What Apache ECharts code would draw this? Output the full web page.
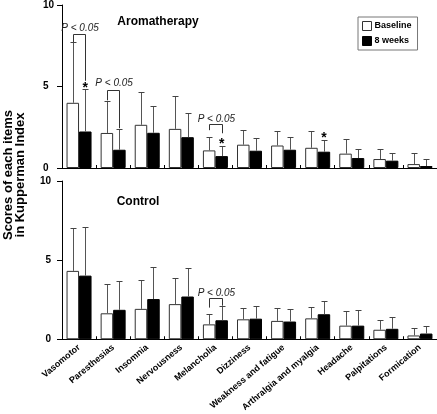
<!DOCTYPE html>
<html><head><meta charset="utf-8">
<script src="https://cdn.jsdelivr.net/npm/echarts@6/dist/echarts.min.js"></script>
<style>html,body{margin:0;padding:0;background:#fff}#c{width:437px;height:414px}</style>
</head><body><div id="c"></div>
<script>
const categories = ['Vasomotor','Paresthesias','Insomnia','Nervousness','Melancholia','Dizziness','Weakness and fatigue','Arthralgia and myalgia','Headache','Palpitations','Formication'];
const yTicks = [0, 5, 10];
const aromaBaseline = [4.0, 2.15, 2.65, 2.4, 1.08, 1.43, 1.38, 1.24, 0.88, 0.55, 0.24];
const aromaBaselineSD = [3.73, 1.94, 2.01, 2.01, 0.85, 0.91, 0.90, 1.06, 0.87, 0.59, 0.70];
const aroma8w = [2.24, 1.12, 2.16, 1.89, 0.73, 1.06, 1.12, 1.0, 0.61, 0.45, 0.12];
const aroma8wSD = [2.60, 1.28, 1.62, 1.49, 0.65, 0.79, 0.77, 0.73, 0.57, 0.49, 0.45];
const controlBaseline = [4.32, 1.64, 1.92, 2.22, 0.94, 1.26, 1.16, 1.32, 0.86, 0.60, 0.24];
const controlBaselineSD = [2.68, 1.84, 1.80, 1.68, 0.64, 0.72, 0.82, 0.70, 0.92, 0.62, 0.48];
const control8w = [4.02, 1.86, 2.54, 2.70, 1.20, 1.30, 1.12, 1.58, 0.86, 0.66, 0.36];
const control8wSD = [3.10, 1.84, 2.04, 1.80, 0.90, 0.80, 0.78, 0.86, 1.00, 0.72, 0.48];
// brackets: [category, top, left leg end, right leg end, label y]
const aromaBrackets = [[0, 8.23, 7.73, 5.35, 8.6], [1, 4.76, 4.15, 2.44, 5.18], [4, 2.68, 2.32, 2.13, 2.99]];
const controlBrackets = [[4, 2.6, 2.0, 2.12, 2.9]];
const aromaStars = [[0, 5.1], [4, 1.63], [7, 2.0]];
const pText = 'P < 0.05';

const FONT = '"Liberation Sans", Arial, sans-serif';
const BW = 12.5;

function errSeries(vals, sds, sign, gi) {
  return {
    type: 'custom', xAxisIndex: gi, yAxisIndex: gi, z: 5, silent: true,
    data: vals.map((v, i) => [i, v, v + sds[i]]),
    encode: { x: 0, y: [1, 2] },
    renderItem: function (params, api) {
      const p0 = api.coord([api.value(0), api.value(1)]);
      const p1 = api.coord([api.value(0), api.value(2)]);
      const x = Math.round(p0[0] + sign * BW / 2) + 0.5;
      const y1 = Math.round(p1[1]) + 0.5;
      return { type: 'group', children: [
        { type: 'line', shape: { x1: x, y1: p0[1], x2: x, y2: y1 }, style: { stroke: '#555', lineWidth: 1 } },
        { type: 'line', shape: { x1: x - 3, y1: y1, x2: x + 3, y2: y1 }, style: { stroke: '#444', lineWidth: 1 } }
      ]};
    }
  };
}

function bracketSeries(br, gi) {
  return {
    type: 'custom', xAxisIndex: gi, yAxisIndex: gi, z: 6, silent: true,
    data: br,
    encode: { x: 0, y: 1 },
    renderItem: function (params, api) {
      const c = api.value(0);
      const pt = api.coord([c, api.value(1)]);
      const pl = api.coord([c, api.value(2)]);
      const pr = api.coord([c, api.value(3)]);
      const plab = api.coord([c, api.value(4)]);
      const xl = Math.round(pt[0] - BW / 2) + 0.5, xr = Math.round(pt[0] + BW / 2) + 0.5;
      const yt = Math.round(pt[1]) + 0.5;
      return { type: 'group', children: [
        { type: 'polyline', shape: { points: [[xl, pl[1]], [xl, yt], [xr, yt], [xr, pr[1]]] }, style: { stroke: '#333', lineWidth: 1, fill: null } },
        { type: 'text', x: pt[0] + 1, y: plab[1], style: { text: pText, font: 'italic 10px ' + FONT, fill: '#222', align: 'center', verticalAlign: 'middle' } }
      ]};
    }
  };
}

function starSeries(st, gi) {
  return {
    type: 'custom', xAxisIndex: gi, yAxisIndex: gi, z: 6, silent: true,
    data: st, encode: { x: 0, y: 1 },
    renderItem: function (params, api) {
      const p = api.coord([api.value(0), api.value(1)]);
      return { type: 'text', x: p[0] + BW / 2, y: p[1] + 3, style: { text: '*', font: 'bold 14px ' + FONT, fill: '#000', align: 'center', verticalAlign: 'middle' } };
    }
  };
}

function xAxis(gi, showLabels) {
  return {
    type: 'category', gridIndex: gi, data: categories, boundaryGap: true,
    axisLine: { show: true, lineStyle: { color: '#000', width: 1 } },
    axisTick: { show: true, inside: true, length: 3, interval: 0, lineStyle: { color: '#000' } },
    axisLabel: { show: showLabels, interval: 0, rotate: 40, fontSize: 9, fontWeight: 'bold', fontFamily: FONT, color: '#000', margin: 7 },
    splitLine: { show: false }
  };
}
function yAxis(gi, align, margin) {
  return {
    type: 'value', gridIndex: gi, min: yTicks[0], max: yTicks[yTicks.length - 1], interval: yTicks[1] - yTicks[0],
    axisLine: { show: true, lineStyle: { color: '#000', width: 1 } },
    axisTick: { show: true, inside: false, length: 5, lineStyle: { color: '#000' } },
    axisLabel: { fontSize: 10, fontWeight: 'bold', fontFamily: FONT, color: '#000', align: align, margin: margin },
    splitLine: { show: false }
  };
}
const whiteStyle = { color: '#fff', borderColor: '#333', borderWidth: 1 };
const blackStyle = { color: '#000', borderColor: '#000', borderWidth: 1 };

const chart = echarts.init(document.getElementById('c'), null, { renderer: 'canvas' });
chart.setOption({
  animation: false,
  backgroundColor: '#fff',
  title: [
    { text: 'Aromatherapy', left: 153, top: 11, textAlign: 'center', textStyle: { fontSize: 12, fontWeight: 'bold', fontFamily: FONT, color: '#000' } },
    { text: 'Control', left: 133, top: 191, textAlign: 'center', textStyle: { fontSize: 12, fontWeight: 'bold', fontFamily: FONT, color: '#000' } }
  ],
  legend: {
    orient: 'vertical', left: 358, top: 17, padding: [4, 6, 4, 4], itemGap: 5,
    itemWidth: 9, itemHeight: 9, borderColor: '#777', borderWidth: 1,
    textStyle: { fontSize: 9, fontWeight: 'bold', fontFamily: FONT, color: '#000', padding: [0, 0, 0, -2] },
    data: [
      { name: 'Baseline', icon: 'rect', itemStyle: whiteStyle },
      { name: '8 weeks', icon: 'rect', itemStyle: blackStyle }
    ]
  },
  grid: [
    { left: 62, right: 0, top: 4, height: 164 },
    { left: 62, right: 0, top: 181, height: 166 }
  ],
  xAxis: [xAxis(0, false), xAxis(1, true)],
  yAxis: [yAxis(0, 'left', 19), yAxis(1, 'right', 11)],
  graphic: [
    { type: 'text', x: 14, y: 175, rotation: Math.PI / 2,
      style: { text: 'Scores of each items\nin Kupperman Index', font: 'bold 13px ' + FONT, lineHeight: 12, fill: '#000', align: 'center', verticalAlign: 'middle' } }
  ],
  series: [
    { name: 'Baseline', type: 'bar', xAxisIndex: 0, yAxisIndex: 0, data: aromaBaseline, barWidth: BW, barGap: '0%', itemStyle: whiteStyle },
    { name: '8 weeks', type: 'bar', xAxisIndex: 0, yAxisIndex: 0, data: aroma8w, barWidth: BW, barGap: '0%', itemStyle: blackStyle },
    { name: 'Baseline', type: 'bar', xAxisIndex: 1, yAxisIndex: 1, data: controlBaseline, barWidth: BW, barGap: '0%', itemStyle: whiteStyle },
    { name: '8 weeks', type: 'bar', xAxisIndex: 1, yAxisIndex: 1, data: control8w, barWidth: BW, barGap: '0%', itemStyle: blackStyle },
    errSeries(aromaBaseline, aromaBaselineSD, -1, 0),
    errSeries(aroma8w, aroma8wSD, 1, 0),
    errSeries(controlBaseline, controlBaselineSD, -1, 1),
    errSeries(control8w, control8wSD, 1, 1),
    bracketSeries(aromaBrackets, 0),
    bracketSeries(controlBrackets, 1),
    starSeries(aromaStars, 0)
  ]
});
</script></body></html>
